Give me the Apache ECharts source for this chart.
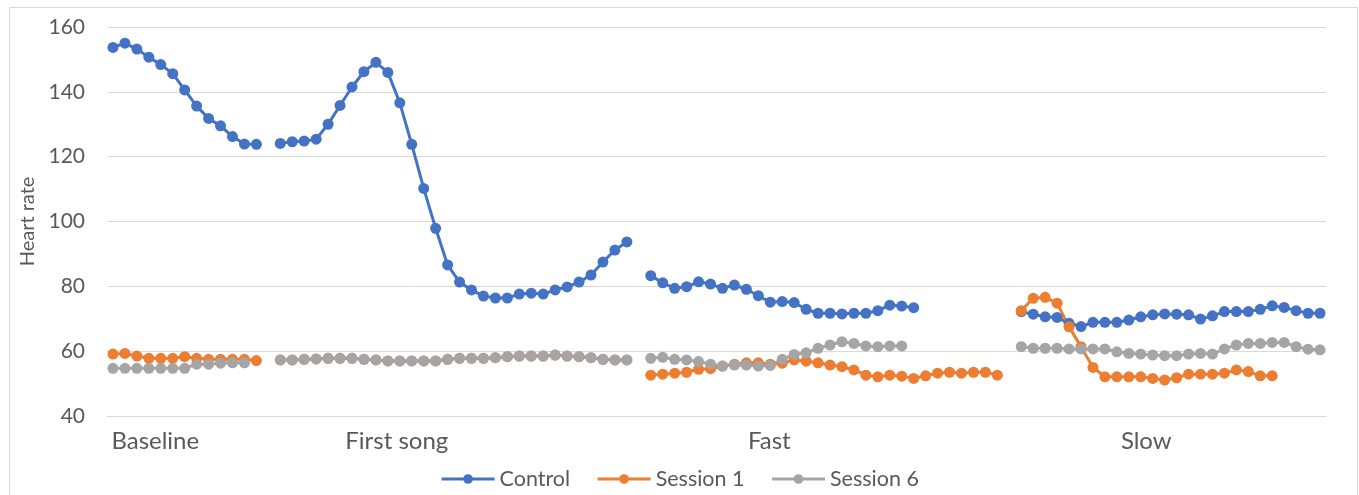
<!DOCTYPE html>
<html>
<head>
<meta charset="utf-8">
<script src="https://cdn.jsdelivr.net/npm/echarts@6/dist/echarts.min.js"></script>
<style>html,body{margin:0;padding:0;background:#fff}#c{width:1359px;height:495px}</style>
</head>
<body>
<div id="c"></div>
<script>
// Segment names (x-axis labels) and number of categories per segment
const segments = ['Baseline', 'First song', 'Fast', 'Slow'];
const segmentLength = [13, 30, 30, 26];
// category index (within the whole axis) where each segment name is shown
const labelIndex = [4, 24, 55, 86];

const yTicks = [40, 60, 80, 100, 120, 140, 160];

// Control
const controlBaseline = [153.7, 155.0, 153.2, 150.7, 148.4, 145.6, 140.6, 135.6, 131.8, 129.5, 126.2, 123.9, 123.8];
const controlFirstSong = [124.1, 124.6, 124.8, 125.4, 130.0, 135.8, 141.5, 146.2, 149.1, 146.0, 136.6, 123.8, 110.2, 97.9, 86.6, 81.3, 78.9, 77.0, 76.4, 76.4, 77.6, 77.9, 77.6, 78.9, 79.8, 81.3, 83.5, 87.5, 91.2, 93.7];
const controlFast = [83.3, 81.1, 79.4, 79.9, 81.4, 80.7, 79.4, 80.4, 79.1, 77.1, 75.1, 75.3, 75.0, 72.9, 71.7, 71.7, 71.5, 71.7, 71.7, 72.5, 74.2, 73.9, 73.4];
const controlSlow = [72.2, 71.4, 70.6, 70.4, 68.6, 67.6, 68.9, 68.9, 68.9, 69.6, 70.6, 71.2, 71.5, 71.4, 71.2, 69.9, 70.9, 72.2, 72.2, 72.2, 72.9, 74.0, 73.5, 72.5, 71.7, 71.7];

// Session 1
const s1Baseline = [59.1, 59.3, 58.5, 57.8, 57.8, 57.8, 58.3, 57.8, 57.5, 57.5, 57.5, 57.5, 57.1];
const s1FirstSong = [57.3, 57.3, 57.5, 57.6, 57.8, 57.8, 57.8, 57.5, 57.3, 57.0, 57.0, 57.0, 57.0, 57.0, 57.5, 57.8, 57.8, 57.8, 58.0, 58.3, 58.5, 58.5, 58.5, 58.8, 58.5, 58.3, 58.0, 57.5, 57.3, 57.3];
const s1Fast = [52.6, 52.9, 53.2, 53.5, 54.4, 54.6, 55.4, 56.0, 56.4, 56.4, 56.0, 56.3, 57.3, 56.9, 56.4, 55.7, 55.2, 54.2, 52.6, 52.1, 52.6, 52.3, 51.6, 52.4, 53.2, 53.5, 53.2, 53.5, 53.5, 52.6];
const s1Slow = [72.5, 76.3, 76.6, 74.8, 67.5, 61.4, 55.0, 52.1, 52.1, 52.1, 52.1, 51.6, 51.1, 51.8, 52.9, 52.9, 52.9, 53.2, 54.2, 53.7, 52.4, 52.4];

// Session 6
const s6Baseline = [54.7, 54.7, 54.7, 54.7, 54.7, 54.7, 54.7, 56.0, 56.0, 56.3, 56.4, 56.4];
const s6FirstSong = [57.3, 57.3, 57.5, 57.6, 57.8, 57.8, 57.8, 57.5, 57.3, 57.0, 57.0, 57.0, 57.0, 57.0, 57.5, 57.8, 57.8, 57.8, 58.0, 58.3, 58.5, 58.5, 58.5, 58.8, 58.5, 58.3, 58.0, 57.5, 57.3, 57.3];
const s6Fast = [57.8, 58.1, 57.5, 57.3, 56.8, 56.0, 55.4, 55.7, 55.7, 55.4, 55.6, 57.5, 59.0, 59.5, 60.9, 61.9, 62.9, 62.4, 61.6, 61.4, 61.6, 61.6];
const s6Slow = [61.4, 60.9, 60.9, 60.9, 60.7, 60.7, 60.7, 60.7, 59.8, 59.3, 59.1, 58.8, 58.6, 58.6, 59.1, 59.3, 59.1, 60.7, 61.9, 62.4, 62.4, 62.7, 62.7, 61.4, 60.6, 60.4];

const seriesNames = ['Control', 'Session 1', 'Session 6'];
const colors = ['#4472C4', '#ED7D31', '#A5A5A5'];

function build(parts) {
  const out = [];
  parts.forEach((p, i) => {
    for (let k = 0; k < segmentLength[i]; k++) out.push(k < p.length ? p[k] : null);
    if (i < parts.length - 1) out.push(null); // empty category between segments
  });
  return out;
}
const seriesData = [
  build([controlBaseline, controlFirstSong, controlFast, controlSlow]),
  build([s1Baseline, s1FirstSong, s1Fast, s1Slow]),
  build([s6Baseline, s6FirstSong, s6Fast, s6Slow])
];
const categories = seriesData[0].map((_, i) => String(i + 1));

const FONT = 'Lato';
const TXT = '#595959';
// small horizontal nudges for the segment labels (rich-text padding)
const labelRich = {
  s0: { padding: [0, 11, 0, 0] },
  s1: { padding: [0, 6, 0, 0] },
  s2: { padding: [0, 2, 0, 0] },
  s3: { padding: [0, 0, 0, 11] }
};
Object.values(labelRich).forEach(r => { r.fontFamily = FONT; r.fontSize = 24; r.color = TXT; });

const chart = echarts.init(document.getElementById('c'), null, { renderer: 'canvas' });
chart.setOption({
  animation: false,
  textStyle: { fontFamily: FONT },
  graphic: [{
    type: 'rect', left: 7, top: 5, shape: { width: 1348, height: 488 },
    style: { fill: 'none', stroke: '#d9d9d9', lineWidth: 1 }, silent: true
  }],
  grid: { left: 107, right: 33, top: 27, bottom: 79, containLabel: false },
  legend: {
    data: seriesNames,
    left: 'center', top: 463,
    itemWidth: 53, itemHeight: 12, itemGap: 26,
    lineStyle: { width: 3 },
    textStyle: { fontFamily: FONT, fontSize: 21.5, color: TXT }
  },
  xAxis: {
    type: 'category',
    data: categories,
    boundaryGap: true,
    axisLine: { lineStyle: { color: '#d9d9d9', width: 1 } },
    axisTick: { show: false },
    axisLabel: {
      interval: 0, margin: 13,
      fontFamily: FONT, fontSize: 24, color: TXT,
      formatter: (v, idx) => { const j = labelIndex.indexOf(idx); return j >= 0 ? '{s' + j + '|' + segments[j] + '}' : ''; },
      rich: labelRich
    },
    splitLine: { show: false }
  },
  yAxis: {
    type: 'value', min: yTicks[0], max: yTicks[yTicks.length - 1], interval: 20,
    name: 'Heart rate', nameLocation: 'middle', nameGap: 67,
    nameTextStyle: { fontFamily: FONT, fontSize: 20, color: TXT },
    axisLine: { show: false }, axisTick: { show: false },
    axisLabel: { margin: 22, fontFamily: FONT, fontSize: 21, color: TXT },
    splitLine: { lineStyle: { color: '#d9d9d9', width: 1 } }
  },
  series: seriesNames.map((n, i) => ({
    name: n, type: 'line', data: seriesData[i],
    connectNulls: false, showAllSymbol: true,
    symbol: 'circle', symbolSize: 11,
    lineStyle: { color: colors[i], width: 3 },
    itemStyle: { color: colors[i] },
    emphasis: { disabled: true }
  }))
});
</script>
</body>
</html>
